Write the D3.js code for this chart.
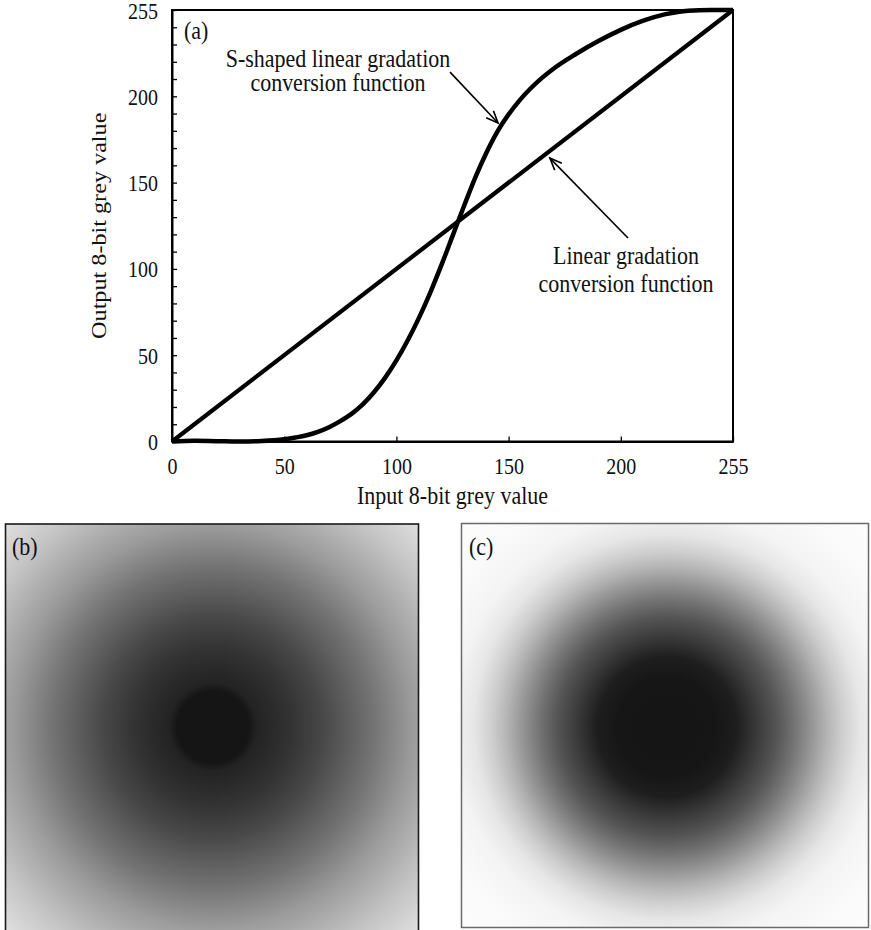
<!DOCTYPE html>
<html>
<head>
<meta charset="utf-8">
<script src="https://cdn.jsdelivr.net/npm/d3@7"></script>
<style>
  html, body { margin: 0; padding: 0; background: #fff; }
  svg { display: block; }
  text { font-family: "Liberation Serif", "DejaVu Serif", serif; fill: #111; }
</style>
</head>
<body>
<script>
// ---------------- data ----------------
const xTickValues = [0, 50, 100, 150, 200, 250];
const xTickLabels = ["0", "50", "100", "150", "200", "255"];
const yTickValues = [0, 50, 100, 150, 200, 250];
const yTickLabels = ["0", "50", "100", "150", "200", "255"];
const yMinorTicks = [0,10,20,30,40,50,60,70,80,90,100,110,120,130,140,150,160,170,180,190,200,210,220,230,240,250];

// Linear gradation conversion function
const linearX = [0, 250];
const linearY = [0, 250];

// S-shaped linear gradation conversion function
const sCurveX = [0, 10, 20, 30, 40, 50, 55, 60, 65, 70, 75, 80, 85, 90, 95, 100, 105, 110, 115, 120, 125, 130, 135, 140, 145, 150, 155, 160, 165, 170, 180, 190, 200, 210, 220, 230, 240, 250];
const sCurveY = [0, 0.4, 0.2, 0, 0.3, 1.3, 2.3, 3.6, 5.6, 8.3, 11.8, 16, 21.5, 28.5, 37, 47, 58.5, 71.5, 86, 102, 119, 136, 152.5, 167, 179.5, 189.5, 197.8, 204.8, 210.8, 216, 224.5, 232, 238.5, 243.8, 247.6, 249.6, 250, 250];

// radial grey profiles of the two images (radius in px, 8-bit grey)
const imgBRadius = [0, 36, 44, 60, 80, 110, 160, 200, 250, 300];
const imgBGrey   = [21, 21, 35, 42, 52, 72, 115, 155, 196, 230];
const imgCRadius = [0, 50, 70, 93, 110, 127, 145, 160, 175, 193, 215, 250, 300];
const imgCGrey   = [21, 22, 30, 62, 85, 115, 150, 180, 206, 230, 244, 250, 254];

// ---------------- layout ----------------
const W = 871, H = 930;
const svg = d3.select("body").append("svg").attr("width", W).attr("height", H);
svg.append("rect").attr("width", W).attr("height", H).attr("fill", "#fff");

const x = d3.scaleLinear().domain([0, 250]).range([172, 733]);
const y = d3.scaleLinear().domain([0, 250]).range([441.5, 10]);

const TICK_FS = 20, TICK_SY = 1.12;
const LAB_FS = 22, LAB_SY = 1.1;

function label(parent, px, py, str, anchor, fs, sy) {
  parent.append("text")
    .attr("transform", `translate(${px},${py}) scale(1,${sy})`)
    .attr("text-anchor", anchor)
    .attr("font-size", fs)
    .text(str);
}

// ---------------- gradients (panels b, c) ----------------
const defs = svg.append("defs");
function makeGradient(id, cx, cy, radii, greys) {
  const rMax = d3.max(radii);
  const off = d3.scaleLinear().domain([0, rMax]).range([0, 1]);
  const g = defs.append("radialGradient").attr("id", id)
    .attr("gradientUnits", "userSpaceOnUse")
    .attr("cx", cx).attr("cy", cy).attr("r", rMax);
  radii.forEach((r, i) => {
    g.append("stop").attr("offset", off(r))
      .attr("stop-color", d3.rgb(greys[i], greys[i], greys[i]).formatHex());
  });
}
makeGradient("gradB", 213, 727, imgBRadius, imgBGrey);
makeGradient("gradC", 667, 727, imgCRadius, imgCGrey);

svg.append("rect").attr("x", 5.5).attr("y", 524).attr("width", 413).attr("height", 420)
  .attr("fill", "url(#gradB)").attr("stroke", "#1a1a1a").attr("stroke-width", 1.6);
svg.append("rect").attr("x", 461.5).attr("y", 523.5).attr("width", 407).attr("height", 404)
  .attr("fill", "url(#gradC)").attr("stroke", "#6a6a6a").attr("stroke-width", 1.5);

label(svg, 12, 555, "(b)", "start", LAB_FS, LAB_SY);
label(svg, 469, 555, "(c)", "start", LAB_FS, LAB_SY);

// ---------------- panel (a) ----------------
const gA = svg.append("g");

// plot frame
gA.append("rect").attr("x", x(0)).attr("y", y(250))
  .attr("width", x(250) - x(0)).attr("height", y(0) - y(250))
  .attr("fill", "none").attr("stroke", "#000").attr("stroke-width", 2);

// x axis
const xAxis = d3.axisBottom(x).tickValues(xTickValues)
  .tickFormat((d, i) => xTickLabels[i]).tickSize(-5).tickSizeOuter(0).tickPadding(16);
const gx = gA.append("g").attr("transform", `translate(0,${y(0)})`).call(xAxis);
gx.select(".domain").attr("stroke", "#000").attr("stroke-width", 2);
gx.selectAll(".tick line").attr("stroke", "#000").attr("stroke-width", 1.3);
gx.selectAll(".tick text").attr("font-size", TICK_FS).attr("font-family", "Liberation Serif")
  .attr("fill", "#111")
  .attr("transform", `scale(1,${TICK_SY})`).attr("y", 17 / TICK_SY);

// y axis (minor ticks every 10, labels every 50)
const yAxis = d3.axisLeft(y).tickValues(yMinorTicks)
  .tickFormat(d => { const k = yTickValues.indexOf(d); return k >= 0 ? yTickLabels[k] : ""; })
  .tickSize(-5).tickSizeOuter(0).tickPadding(14);
const gy = gA.append("g").attr("transform", `translate(${x(0)},0)`).call(yAxis);
gy.select(".domain").attr("stroke", "#000").attr("stroke-width", 2);
gy.selectAll(".tick line").attr("stroke", "#000").attr("stroke-width", 1.3);
gy.selectAll(".tick text").attr("font-size", TICK_FS).attr("font-family", "Liberation Serif")
  .attr("fill", "#111").attr("transform", `scale(1,${TICK_SY})`)
  .attr("dy", "0.36em");

// lines
const line = d3.line().x(d => x(d[0])).y(d => y(d[1]));
gA.append("path").datum(linearX.map((v, i) => [v, linearY[i]]))
  .attr("d", line).attr("fill", "none").attr("stroke", "#000").attr("stroke-width", 4.2);
gA.append("path").datum(sCurveX.map((v, i) => [v, sCurveY[i]]))
  .attr("d", d3.line().x(d => x(d[0])).y(d => y(d[1])).curve(d3.curveMonotoneX))
  .attr("fill", "none").attr("stroke", "#000").attr("stroke-width", 4.5)
  .attr("stroke-linejoin", "round");

// axis titles
label(svg, (x(0) + x(250)) / 2, 504, "Input 8-bit grey value", "middle", LAB_FS, LAB_SY);
svg.append("text")
  .attr("transform", `translate(106,${(y(0) + y(250)) / 2}) rotate(-90) scale(${LAB_SY},1)`)
  .attr("text-anchor", "middle").attr("font-size", LAB_FS)
  .text("Output 8-bit grey value");

// panel label and annotations
label(svg, 184, 39, "(a)", "start", LAB_FS, LAB_SY);
label(svg, 338, 67, "S-shaped linear gradation", "middle", LAB_FS, LAB_SY);
label(svg, 338, 91, "conversion function", "middle", LAB_FS, LAB_SY);
label(svg, 626, 264, "Linear gradation", "middle", LAB_FS, LAB_SY);
label(svg, 626, 292, "conversion function", "middle", LAB_FS, LAB_SY);

// arrows (data coordinates)
defs.append("marker").attr("id", "arrow").attr("markerUnits", "userSpaceOnUse")
  .attr("viewBox", "-14 -8 16 16").attr("refX", 0).attr("refY", 0)
  .attr("markerWidth", 16).attr("markerHeight", 16).attr("orient", "auto")
  .append("path").attr("d", "M-12,-5 L0,0 L-12,5").attr("fill", "none")
  .attr("stroke", "#000").attr("stroke-width", 1.6);

function arrow(x0, y0, x1, y1) {
  gA.append("line").attr("x1", x(x0)).attr("y1", y(y0)).attr("x2", x(x1)).attr("y2", y(y1))
    .attr("stroke", "#000").attr("stroke-width", 1.6).attr("marker-end", "url(#arrow)");
}
arrow(123.9, 214, 145.3, 184.5);
arrow(203.2, 117.9, 168.4, 164.2);
</script>
</body>
</html>
